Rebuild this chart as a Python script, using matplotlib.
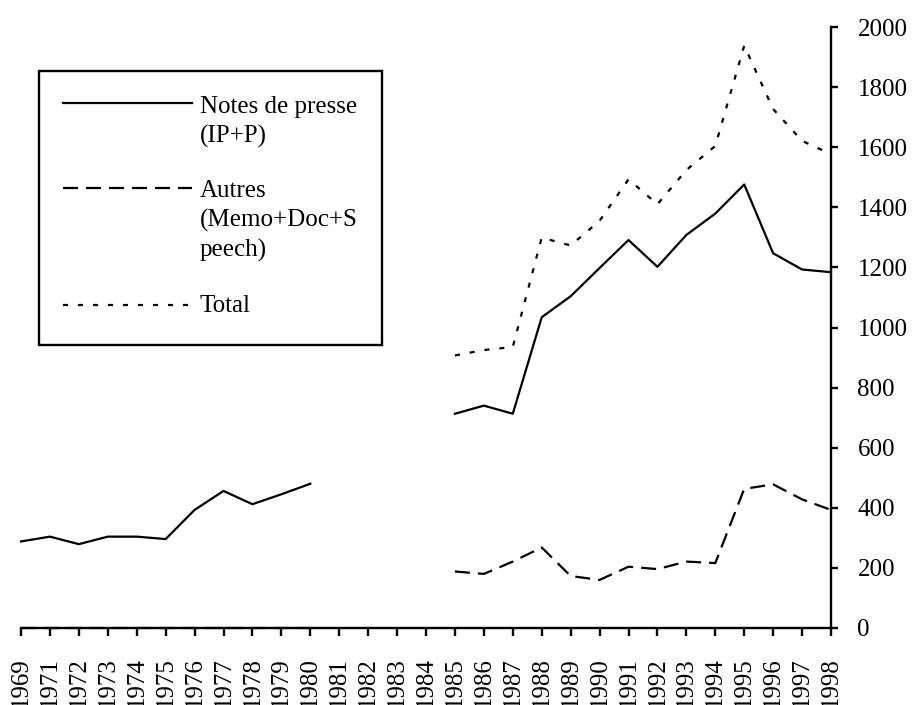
import numpy as np
import matplotlib
matplotlib.use('Agg')
import matplotlib.pyplot as plt
from matplotlib.lines import Line2D
from matplotlib.patches import Rectangle

years = ['1969'] + [str(y) for y in range(1971, 1999)]

nan = np.nan
notes = [288, 304, 279, 304, 304, 296, 393, 456, 412, 445, 480,
         nan, nan, nan, nan,
         713, 740, 713, 1034, 1104, 1198, 1291, 1202, 1308, 1379, 1476, 1247, 1193, 1184]
autres = [0, 0, 0, 0, 0, 0, 0, 0, 0, 0, 0,
          nan, nan, nan, nan,
          188, 180, 221, 268, 173, 160, 204, 196, 221, 216, 463, 478, 428, 393]
total = [nan] * 15 + [907, 925, 935, 1299, 1273, 1355, 1493, 1410, 1524, 1604, 1938, 1727, 1621, 1577]

labels = ['Notes de presse\n(IP+P)', 'Autres\n(Memo+Doc+S\npeech)', 'Total']

plt.rcParams['font.family'] = ['Liberation Serif', 'DejaVu Serif']
plt.rcParams['font.size'] = 18

W, H = 914, 705
fig = plt.figure(figsize=(W / 100, H / 100), dpi=100)
ax = fig.add_axes([21 / W, 1 - 628 / H, 810 / W, 601 / H])

lw = 1.6
styles = ['-', (0, (6.75, 3.6)), (0, (2.25, 4.5))]
x = np.arange(len(years))
for series, ls in zip([notes, autres, total], styles):
    ax.plot(x, series, color='black', lw=lw, linestyle=ls, clip_on=False)

ax.set_xlim(0, len(years) - 1)
ax.set_ylim(0, 2000)
ax.set_xticks(x)
ax.set_xticklabels(years, rotation=90)
ax.set_yticks(np.arange(0, 2001, 200))

ax.spines['left'].set_visible(False)
ax.spines['top'].set_visible(False)
ax.spines['right'].set_linewidth(1.7)
ax.spines['bottom'].set_linewidth(1.7)
ax.yaxis.tick_right()
ax.tick_params(axis='x', direction='out', length=5.8, width=1.7, pad=15)
ax.tick_params(axis='y', direction='out', length=5.0, width=1.7, pad=14)

# legend box drawn by hand so the sample lines sit on the first text line
def fx(px):
    return px / W

def fy(py):
    return 1 - py / H

fig.add_artist(Rectangle((fx(39), fy(345)), fx(382) - fx(39), fy(71) - fy(345),
                         transform=fig.transFigure, facecolor='white',
                         edgecolor='black', lw=1.7))
handle_y = [103, 188, 305]
text_top = [96, 180, 295]
for ls, hy, ty, lab in zip(styles, handle_y, text_top, labels):
    fig.add_artist(Line2D([fx(63), fx(192)], [fy(hy), fy(hy)], color='black',
                          lw=lw, linestyle=ls, transform=fig.transFigure))
    fig.text(fx(200), fy(ty), lab, va='top', ha='left', linespacing=1.4)

fig.savefig('out.png', dpi=100)
